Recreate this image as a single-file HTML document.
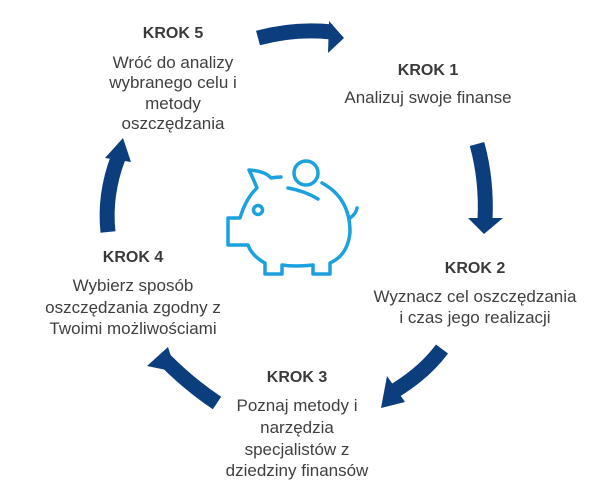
<!DOCTYPE html>
<html><head><meta charset="utf-8"><style>
html,body{margin:0;padding:0;background:#fff;}
svg{display:block}
text{font-family:"Liberation Sans",sans-serif;fill:#404040;text-anchor:middle;font-size:17px}
.b{font-weight:bold;font-size:16px;fill:#3a3a3a}
</style></head><body>
<svg width="605" height="497" viewBox="0 0 605 497" xmlns="http://www.w3.org/2000/svg">
<g fill="none" stroke="#0c3e7e" stroke-width="15">
<path d="M258 38 Q295 28 332 32"/>
<path d="M477 144 Q487 180 485 220"/>
<path d="M442 349 Q425 372 396 390"/>
<path d="M217 403 Q190 385 165 360"/>
<path d="M108 232 Q104 195 118 158"/>
</g>
<g fill="#0c3e7e">
<polygon points="329,21 344,38 328,53"/>
<polygon points="468,218 503,218 484,234"/>
<polygon points="387,376 405,402 381,408"/>
<polygon points="147,366 168,347 176,372"/>
<polygon points="105,158 123,138 131,162"/>
</g>
<g fill="none" stroke="#1ba1dd" stroke-width="3.5" stroke-linejoin="round" stroke-linecap="round">
<circle cx="306" cy="173" r="12"/>
<path d="M288 188 Q305 191 318 199"/>
<circle cx="258" cy="210" r="4.5"/>
<path d="M322 183 Q350 198 350 232 Q348 255 330 263 L330 274 L313 274 L313 265 Q295 267 282 265 L282 274 L265 274 L265 263 Q252 256 248 245 L228 245 L228 218 L240 218 Q246 198 257 188 Q253 178 249 170 Q265 171 271 178 Q276 177 281 177"/>
<path d="M350 218 Q356 214 357 208"/>
</g>
<text class="b" x="173" y="38">KROK 5</text>
<text x="173" y="68">Wróć do analizy</text>
<text x="173" y="88">wybranego celu i</text>
<text x="173" y="109">metody</text>
<text x="173" y="129">oszczędzania</text>
<text class="b" x="428" y="75">KROK 1</text>
<text x="428" y="103">Analizuj swoje finanse</text>
<text class="b" x="475" y="273">KROK 2</text>
<text x="475" y="302">Wyznacz cel oszczędzania</text>
<text x="475" y="323">i czas jego realizacji</text>
<text class="b" x="297" y="382">KROK 3</text>
<text x="297" y="411">Poznaj metody i</text>
<text x="297" y="433">narzędzia</text>
<text x="297" y="455">specjalistów z</text>
<text x="297" y="476">dziedziny finansów</text>
<text class="b" x="133" y="262">KROK 4</text>
<text x="133" y="291">Wybierz sposób</text>
<text x="133" y="313">oszczędzania zgodny z</text>
<text x="133" y="334">Twoimi możliwościami</text>
</svg>
</body></html>
